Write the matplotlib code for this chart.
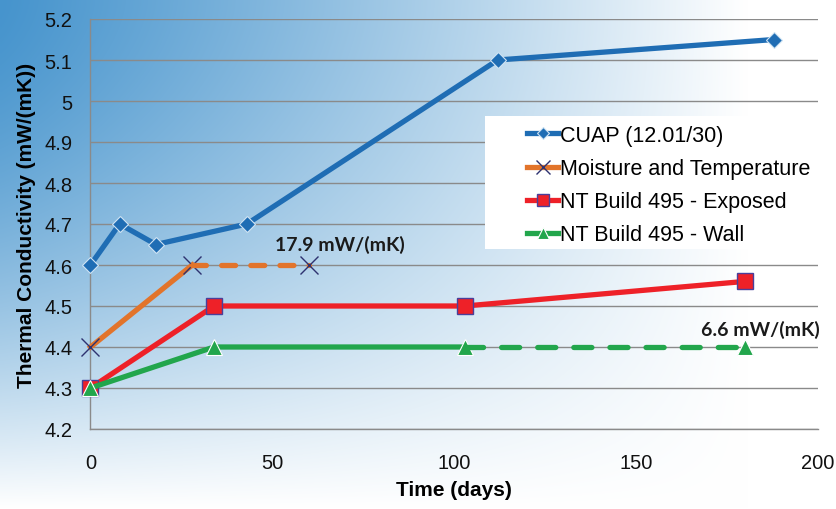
import numpy as np
import matplotlib.pyplot as plt
from matplotlib.patches import Rectangle

# thermal conductivity over time, four test methods
cuap_days = [0, 8, 18, 43, 112, 188]
cuap_k = [4.6, 4.7, 4.65, 4.7, 5.1, 5.15]

moist_days = [0, 28, 60]
moist_k = [4.4, 4.6, 4.6]

exposed_days = [0, 34, 103, 180]
exposed_k = [4.3, 4.5, 4.5, 4.56]

wall_days = [0, 34, 103, 180]
wall_k = [4.3, 4.4, 4.4, 4.4]

labels = ["CUAP (12.01/30)", "Moisture and Temperature",
          "NT Build 495 - Exposed", "NT Build 495 - Wall"]
notes = ["17.9 mW/(mK)", "6.6 mW/(mK)"]

plt.rcParams['font.family'] = ['Liberation Sans', 'DejaVu Sans']
plt.rcParams['lines.scale_dashes'] = False

W, H = 837, 510
fig = plt.figure(figsize=(W / 100, H / 100), dpi=100)

# blue-to-white background wash
bg = fig.add_axes([0, 0, 1, 1], zorder=-10)
xx, yy = np.meshgrid(np.linspace(0, 1, 400), np.linspace(0, 1, 250))
gx = np.clip(xx * 1.12, 0, 1) ** 1.1
gy = np.clip(yy, 0, 1) ** 1.6
w = 1 - (1 - gx) * (1 - gy)
blue = np.array([70, 148, 205]) / 255
img = blue[None, None, :] + w[..., None] * (1 - blue[None, None, :])
bg.imshow(img, aspect='auto', extent=[0, 1, 1, 0], interpolation='bilinear')
bg.axis('off')

ax = fig.add_axes([90.5 / W, 80 / H, (817.7 - 90.5) / W, 410 / H])
ax.set_facecolor('none')

# white box behind the legend
fig.patches.append(Rectangle((485 / W, 1 - 250 / H), 335 / W, 133 / H,
                             transform=fig.transFigure, facecolor='white',
                             edgecolor='none', zorder=1))

blue_c = '#1f6db4'
orange_c = '#e2742b'
red_c = '#ee2128'
green_c = '#22a64c'

lw = 3.8
ax.plot(cuap_days, cuap_k, color=blue_c, lw=lw, marker='D', ms=8.5,
        mec='#cfe3f3', mew=0.8, label=labels[0], zorder=6, clip_on=False)

ax.plot(moist_days[:2], moist_k[:2], color=orange_c, lw=lw, marker='x', ms=13,
        mec='#2e3270', mew=1.0, label=labels[1], zorder=5, clip_on=False)
ax.plot(moist_days[1:], moist_k[1:], color=orange_c, lw=lw, dashes=(10, 11),
        dash_capstyle='round', marker='x', ms=13, mec='#2e3270', mew=1.0,
        markevery=[1], zorder=5, clip_on=False)

ax.plot(exposed_days, exposed_k, color=red_c, lw=lw, marker='s', ms=12,
        mfc=red_c, mec='#4a3f9a', mew=1.0, label=labels[2], zorder=5,
        clip_on=False)

ax.plot(wall_days[:3], wall_k[:3], color=green_c, lw=lw, marker='^', ms=11,
        mec='white', mew=0.8, label=labels[3], zorder=5.5, clip_on=False)
ax.plot(wall_days[2:], wall_k[2:], color=green_c, lw=lw, dashes=(13, 13),
        dash_capstyle='round', marker='^', ms=11, mec='white', mew=0.8,
        markevery=[1], zorder=5.5, clip_on=False)

ax.text(68.6, 4.652, notes[0], ha='center', va='center', fontsize=14,
        fontweight='bold', family='Lato', color='#1a1a1a', zorder=7)
ax.text(184.2, 4.445, notes[1], ha='center', va='center', fontsize=14,
        fontweight='bold', family='Lato', color='#1a1a1a', zorder=7)

ax.set_xlim(0, 200)
ax.set_ylim(4.2, 5.2)
ax.set_xticks([0, 50, 100, 150, 200])
ax.set_yticks(np.round(np.arange(4.2, 5.21, 0.1), 1))
ax.set_yticklabels(['4.2', '4.3', '4.4', '4.5', '4.6', '4.7', '4.8', '4.9',
                    '5', '5.1', '5.2'])
ax.tick_params(axis='both', length=0, labelsize=14.5, colors='#111111')
ax.tick_params(axis='y', pad=13)
ax.tick_params(axis='x', pad=17)

ax.grid(axis='y', color='#8a8a8a', lw=1.0, zorder=0)
ax.set_axisbelow(True)
for side in ['top', 'right']:
    ax.spines[side].set_visible(False)
for side in ['left', 'bottom']:
    ax.spines[side].set_color('#8a8a8a')
    ax.spines[side].set_linewidth(1.0)

ax.set_xlabel("Time (days)", fontsize=15, fontweight='bold', labelpad=6)
ax.set_ylabel("Thermal Conductivity (mW/(mK))", fontsize=15,
              fontweight='bold', labelpad=6)

leg = fig.legend(loc='upper left', bbox_to_anchor=(527 / W, 1 - 126 / H),
                 frameon=False, fontsize=15.5, handlelength=1.45,
                 handletextpad=0.1, labelspacing=0.56, borderpad=0,
                 borderaxespad=0, markerscale=0.75)
leg.set_zorder(8)

fig.savefig("out.png", dpi=100)
